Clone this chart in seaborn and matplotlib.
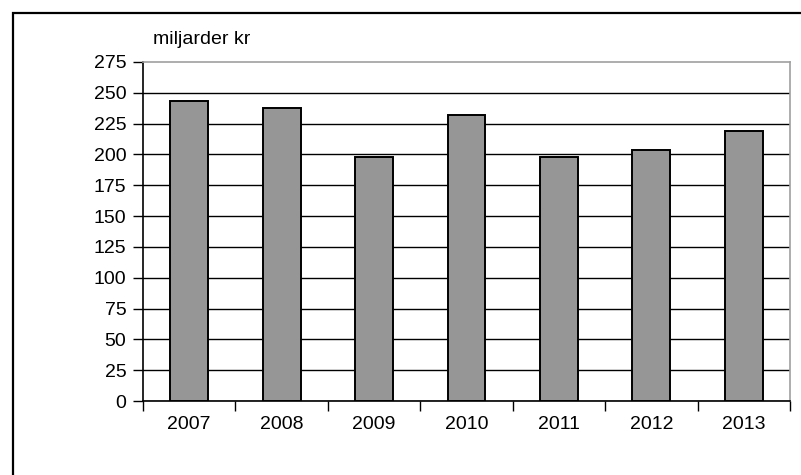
import matplotlib
matplotlib.use("Agg")
import matplotlib.pyplot as plt
import seaborn as sns
import numpy as np
from matplotlib.patches import Rectangle
from matplotlib.ticker import FixedLocator

years = ["2007", "2008", "2009", "2010", "2011", "2012", "2013"]
values = [243, 238, 198, 232, 198, 204, 219]
yticks = [0, 25, 50, 75, 100, 125, 150, 175, 200, 225, 250, 275]
ylabel = "miljarder kr"

sns.set_theme(style="white")
plt.rcParams["font.family"] = ["Liberation Sans", "DejaVu Sans"]

fig = plt.figure(figsize=(8.01, 4.75), dpi=100)
W, H = 801, 475
ax = fig.add_axes([143 / W, 1 - 401 / H, (790 - 143) / W, (401 - 62) / H])

sns.barplot(x=years, y=values, color="#969696", saturation=1, width=0.41,
            edgecolor="black", linewidth=1.4, ax=ax, zorder=3)

ax.set_xlim(-0.5, len(years) - 0.5)
ax.set_ylim(yticks[0], yticks[-1])
ax.set_yticks(yticks)
ax.set_yticklabels([str(v) for v in yticks])
ax.set_xlabel("")
ax.set_ylabel("")

# gridlines
ax.set_axisbelow(True)
ax.yaxis.grid(True, color="black", linewidth=1.0)
ax.xaxis.grid(False)
glines = ax.get_ygridlines()
glines[-1].set_visible(False)

# spines
for s in ["left", "bottom"]:
    ax.spines[s].set_color("black")
    ax.spines[s].set_linewidth(1.2)
for s in ["top", "right"]:
    ax.spines[s].set_color("#a0a0a0")
    ax.spines[s].set_linewidth(1.2)
    ax.spines[s].set_visible(True)

ax.tick_params(axis="y", which="major", direction="out", length=7, width=1.0,
               color="black", labelsize=14, pad=5, labelcolor="black", left=True)
ax.tick_params(axis="x", which="major", length=0, labelsize=14, pad=11,
               labelcolor="black")
ax.xaxis.set_minor_locator(FixedLocator(np.arange(-0.5, len(years), 1.0)))
ax.tick_params(axis="x", which="minor", direction="out", length=7, width=1.0,
               color="black", bottom=True)

fig.text(153 / W, 1 - 40 / H, ylabel, fontsize=14, color="black",
         ha="left", va="center")

# outer chart frame (cropped at right and bottom)
frame = Rectangle((13 / W, -0.2), 1.2, 1 - 13 / H + 0.2, transform=fig.transFigure,
                  fill=False, edgecolor="black", linewidth=1.6, clip_on=False)
fig.patches.append(frame)

fig.savefig("out.png", dpi=100)
